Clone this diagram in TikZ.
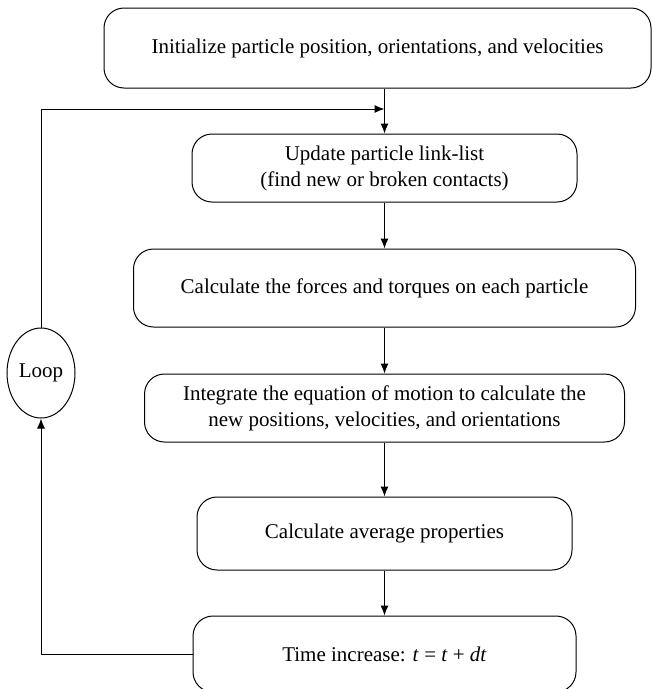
\documentclass[tikz,border=0pt]{standalone}
\usepackage{fontspec}
\setmainfont{Liberation Serif}
\usetikzlibrary{arrows.meta,shapes.geometric}
\begin{document}
\begin{tikzpicture}[x=1pt,y=-1pt,
  stepbox/.style={draw, rounded corners=20pt, line width=1pt, align=center,
    inner sep=0pt, font=\fontsize{21}{26}\selectfont},
  loopnode/.style={draw, ellipse, line width=1pt, inner sep=0pt,
    minimum width=68pt, minimum height=90pt, font=\fontsize{21}{26}\selectfont},
  conn/.style={line width=1pt, -{Latex[length=10pt,width=8pt]}}]
\useasboundingbox (0,0) rectangle (652,689);
\node[stepbox, minimum width=547pt, minimum height=80pt] (init) at (377.5,48)
  {Initialize particle position, orientations, and velocities};
\node[stepbox, minimum width=385pt, minimum height=68pt] (upd) at (384.5,168)
  {Update particle link-list\\(find new or broken contacts)};
\node[stepbox, minimum width=502pt, minimum height=78pt] (force) at (384.5,288)
  {Calculate the forces and torques on each particle};
\node[stepbox, minimum width=480pt, minimum height=68pt] (integ) at (384.5,408)
  {Integrate the equation of motion to calculate the\\new positions, velocities, and orientations};
\node[stepbox, minimum width=375pt, minimum height=73pt] (avg) at (384.5,533.5)
  {Calculate average properties};
\node[stepbox, minimum width=383pt, minimum height=76pt] (time) at (384.5,654)
  {Time increase: \textit{t} = \textit{t} + \textit{dt}};
\node[loopnode] (loop) at (41,373) {Loop};
\coordinate (join) at (upd.north |- 0,109);
\coordinate (corner1) at (loop.north |- join);
\coordinate (corner2) at (loop.south |- time.west);
\draw[conn] (upd.north |- init.south) -- (upd.north);
\draw[conn] (upd.south) -- (force.north -| upd.south);
\draw[conn] (force.south -| upd.south) -- (integ.north -| upd.south);
\draw[conn] (integ.south -| upd.south) -- (avg.north -| upd.south);
\draw[conn] (avg.south -| upd.south) -- (time.north -| upd.south);
\draw[conn] (time.west) -- (corner2) -- (loop.south);
\draw[conn] (loop.north) -- (corner1) -- (join);
\end{tikzpicture}
\end{document}
